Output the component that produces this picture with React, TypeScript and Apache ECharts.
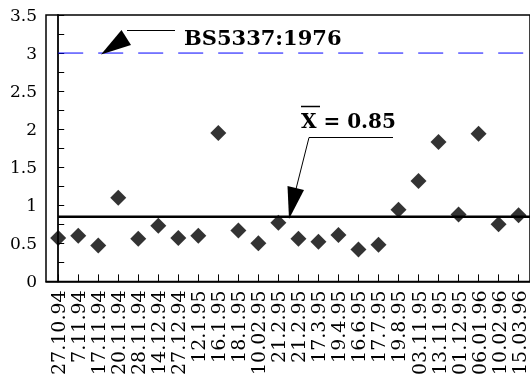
import React, { useEffect, useRef } from "react";
import * as echarts from "echarts";

const dates = ["27.10.94","7.11.94","17.11.94","20.11.94","28.11.94","14.12.94","27.12.94","12.1.95","16.1.95","18.1.95","10.02.95","21.2.95","21.2.95","17.3.95","19.4.95","16.6.95","17.7.95","19.8.95","03.11.95","13.11.95","01.12.95","06.01.96","10.02.96","15.03.96"];
const values = [0.57,0.6,0.47,1.1,0.56,0.73,0.57,0.6,1.95,0.67,0.5,0.77,0.56,0.52,0.61,0.42,0.48,0.94,1.32,1.83,0.88,1.94,0.75,0.87];
const MEAN = 0.85;
const LIMIT = 3;
const yTicks = [0, 0.5, 1, 1.5, 2, 2.5, 3, 3.5];

const FONT = "DejaVu Serif";
const X_MIN = -0.61;
const X_MAX = 23.57;

export default function App() {
  const ref = useRef<HTMLDivElement>(null);
  useEffect(() => {
    if (!ref.current) return;
    const chart = echarts.init(ref.current, null, { renderer: "svg" });
    const idx = dates.map((_, i) => i);
    chart.setOption({
      animation: false,
      grid: {
        left: 46, right: -2, top: 15, bottom: 94,
        show: true, borderColor: "#000", borderWidth: 1.5, containLabel: false,
      },
      xAxis: {
        type: "value", min: X_MIN, max: X_MAX,
        axisLine: { show: true, onZero: false, lineStyle: { color: "#000", width: 1.5 } },
        axisTick: { show: true, inside: true, length: 7, customValues: idx, lineStyle: { color: "#000" } },
        axisLabel: {
          customValues: idx, rotate: 90, margin: 9,
          formatter: (v: number) => dates[Math.round(v)] ?? "",
          fontFamily: FONT, fontSize: 19, color: "#000",
        },
        splitLine: { show: false },
      },
      yAxis: {
        type: "value", min: yTicks[0], max: yTicks[yTicks.length - 1], interval: 0.5,
        axisLine: { show: true, lineStyle: { color: "#000", width: 1.8 } },
        axisTick: { show: true, inside: true, length: 6, lineStyle: { color: "#000" } },
        minorTick: { show: true, splitNumber: 2, length: 6, lineStyle: { color: "#000" } },
        axisLabel: {
          margin: 9, fontFamily: FONT, fontSize: 17, color: "#000",
          formatter: (v: number) => String(v),
        },
        splitLine: { show: false },
      },
      series: [
        {
          type: "line",
          data: [[0, LIMIT], [X_MAX, LIMIT]],
          showSymbol: false,
          symbol: "none",
          silent: true,
          lineStyle: { color: "#0000ff", width: 1, type: [25, 15] },
          z: 1,
        },
        {
          type: "line",
          data: [[0, MEAN], [X_MAX, MEAN]],
          showSymbol: false,
          symbol: "none",
          silent: true,
          lineStyle: { color: "#000", width: 2.5, type: "solid" },
          z: 2,
        },
        {
          type: "scatter",
          data: values.map((v, i) => [i, v]),
          symbol: "diamond",
          symbolSize: 16,
          itemStyle: { color: "#000" },
          z: 3,
        },
      ],
      graphic: [
        { type: "line", shape: { x1: 127, y1: 30.5, x2: 175, y2: 30.5 }, style: { stroke: "#000", lineWidth: 1 }, z: 10 },
        { type: "polygon", shape: { points: [[101, 54.5], [121.5, 30], [131, 45]] }, style: { fill: "#000" }, z: 10 },
        {
          type: "text", x: 184, y: 37,
          style: { text: "BS5337:1976", fontFamily: FONT, fontWeight: "bold", fontSize: 21, fill: "#000", verticalAlign: "middle", align: "left" },
          z: 10,
        },
        {
          type: "text", x: 301, y: 121,
          style: { text: "X = 0.85", fontFamily: FONT, fontWeight: "bold", fontSize: 20, fill: "#000", verticalAlign: "middle", align: "left" },
          z: 10,
        },
        { type: "line", shape: { x1: 301, y1: 106.5, x2: 320, y2: 106.5 }, style: { stroke: "#000", lineWidth: 1.5 }, z: 10 },
        { type: "line", shape: { x1: 309, y1: 137.5, x2: 393, y2: 137.5 }, style: { stroke: "#000", lineWidth: 1 }, z: 10 },
        { type: "line", shape: { x1: 309, y1: 137.5, x2: 296, y2: 189 }, style: { stroke: "#000", lineWidth: 1 }, z: 10 },
        { type: "polygon", shape: { points: [[289, 219], [287.5, 186], [304, 190]] }, style: { fill: "#000" }, z: 10 },
      ],
    });
    return () => chart.dispose();
  }, []);
  return <div ref={ref} style={{ position: "fixed", left: 0, top: 0, width: 530, height: 378 }} />;
}
